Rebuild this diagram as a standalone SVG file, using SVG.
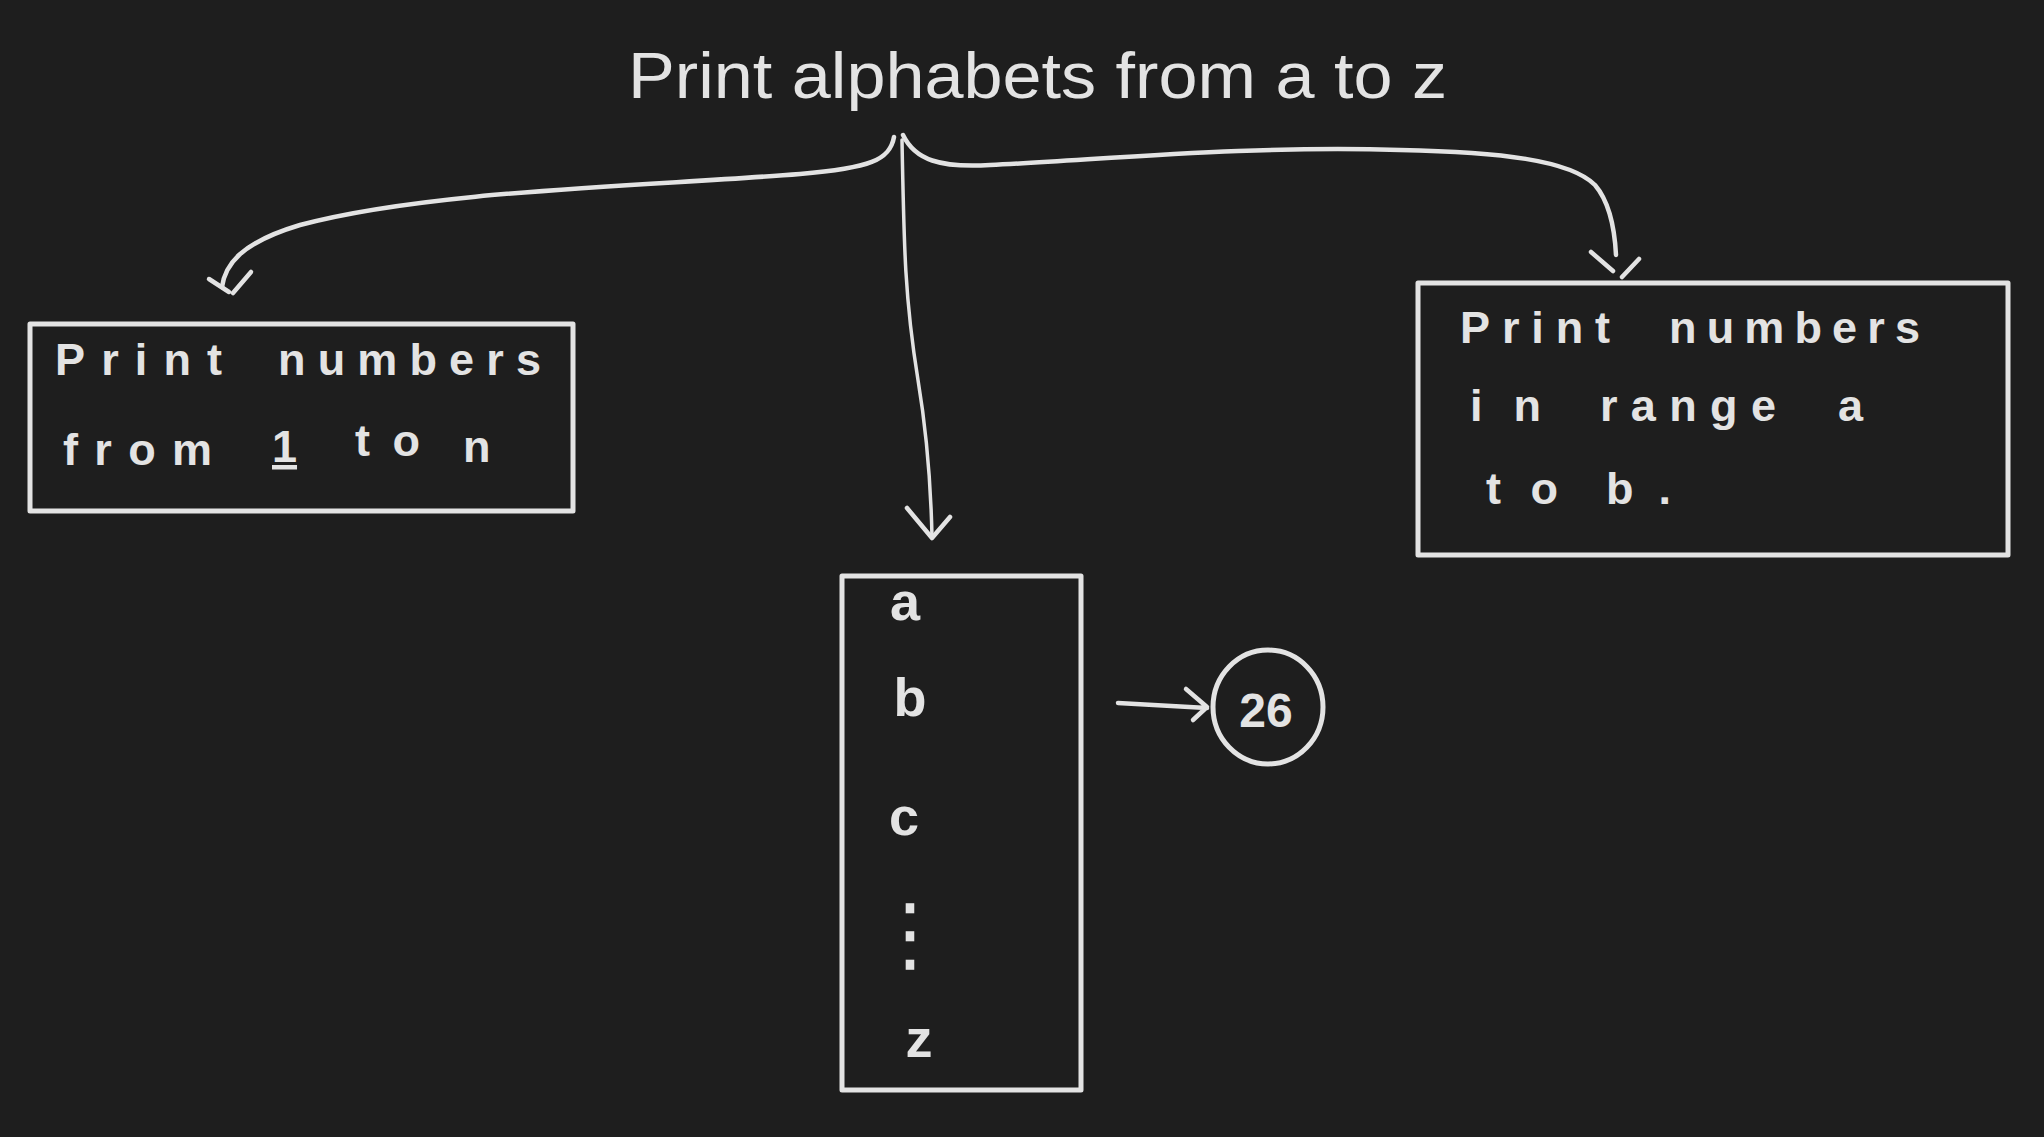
<svg xmlns="http://www.w3.org/2000/svg" width="2044" height="1137" viewBox="0 0 2044 1137">
<defs>
<style>
.bg{fill:#1e1e1e}
.box{fill:none;stroke:#e3e3e3;stroke-width:5;stroke-linecap:round;stroke-linejoin:round}
.ln{fill:none;stroke:#e3e3e3;stroke-width:4.5;stroke-linecap:round;stroke-linejoin:round}
.thin{fill:none;stroke:#e3e3e3;stroke-width:3.5;stroke-linecap:round;stroke-linejoin:round}
.title{fill:#e3e3e3;font-family:"Liberation Sans Narrow","Liberation Sans",sans-serif;font-size:64px}
.hw{fill:#e3e3e3;font-family:"Liberation Sans","DejaVu Sans",sans-serif;font-weight:bold;font-size:45px}
.let{fill:#e3e3e3;font-family:"Liberation Sans","DejaVu Sans",sans-serif;font-weight:bold;font-size:54px;text-anchor:middle}
</style>
</defs>
<rect class="bg" x="0" y="0" width="2044" height="1137"/>

<g id="title">
<text class="title" x="628" y="98" textLength="819" lengthAdjust="spacingAndGlyphs">Print alphabets from a to z</text>
</g>

<g id="connectors">
<path class="ln" d="M 894 137 C 890 160, 870 168, 800 174 C 650 186, 430 190, 300 225 C 240 243, 225 265, 222 287"/>
<path class="ln" d="M 209 279 L 229 292 M 251 272 L 233 293"/>
<path class="thin" d="M 902 140 C 904 250, 905 300, 918 380 C 928 440, 931 490, 932 537"/>
<path class="ln" d="M 907 508 L 932 538 L 950 517"/>
<path class="ln" d="M 903 135 C 915 160, 940 168, 990 165 C 1100 160, 1250 145, 1400 150 C 1500 152, 1570 160, 1595 185 C 1612 205, 1615 235, 1616 255"/>
<path class="ln" d="M 1591 252 L 1613 271 M 1639 259 L 1622 277"/>
<path class="ln" d="M 1118 703 L 1207 708 M 1186 689 L 1207 707 L 1193 720"/>
</g>

<g id="node-left">
<rect class="box" x="30" y="324" width="543" height="187"/>
<text class="hw" x="55" y="375" textLength="167" lengthAdjust="spacing">Print</text>
<text class="hw" x="278" y="375" textLength="263" lengthAdjust="spacing">numbers</text>
<text class="hw" x="63" y="465" textLength="149" lengthAdjust="spacing">from</text>
<text class="hw" x="272" y="462" text-decoration="underline">1</text>
<text class="hw" x="355" y="456" textLength="65" lengthAdjust="spacing">to</text>
<text class="hw" x="463" y="462">n</text>
</g>

<g id="node-center">
<rect class="box" x="842" y="576" width="239" height="514"/>
<text class="let" x="905" y="620">a</text>
<text class="let" x="910" y="716">b</text>
<text class="let" x="904" y="835">c</text>
<text class="let" x="910" y="962" style="font-size:82px;font-family:'DejaVu Sans',sans-serif;font-weight:normal">⋮</text>
<text class="let" x="919" y="1057">z</text>
</g>

<g id="node-count">
<ellipse class="box" cx="1268" cy="707" rx="55" ry="57"/>
<text class="let" x="1266" y="727" style="font-size:48px">26</text>
</g>

<g id="node-right">
<rect class="box" x="1418" y="283" width="590" height="272"/>
<text class="hw" x="1460" y="343" textLength="150" lengthAdjust="spacing">Print</text>
<text class="hw" x="1669" y="343" textLength="251" lengthAdjust="spacing">numbers</text>
<text class="hw" x="1470" y="421" textLength="71" lengthAdjust="spacing">in</text>
<text class="hw" x="1600" y="421" textLength="176" lengthAdjust="spacing">range</text>
<text class="hw" x="1838" y="421">a</text>
<text class="hw" x="1486" y="504" textLength="72" lengthAdjust="spacing">to</text>
<text class="hw" x="1606" y="504" textLength="65" lengthAdjust="spacing">b.</text>
</g>
</svg>
